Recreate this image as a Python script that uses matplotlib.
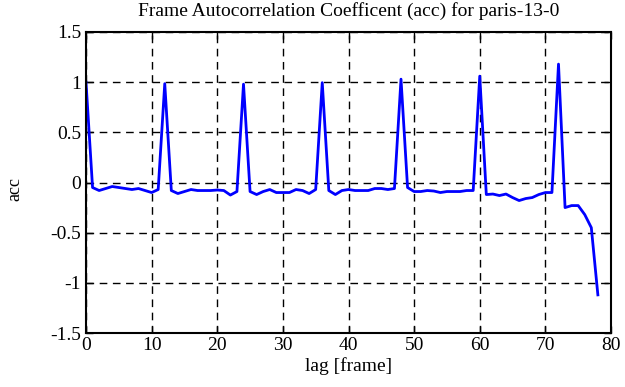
import matplotlib
matplotlib.use("Agg")
import matplotlib.pyplot as plt

plt.rcParams['font.family'] = ['Liberation Serif', 'DejaVu Serif']
plt.rcParams['axes.unicode_minus'] = False

lags = list(range(79))
acc = [1.00, -0.05, -0.08, -0.06, -0.04, -0.05, -0.06, -0.07, -0.06, -0.08,
       -0.10, -0.07, 0.985, -0.08, -0.11, -0.09, -0.07, -0.08, -0.08, -0.08,
       -0.075, -0.08, -0.125, -0.09, 0.98, -0.09, -0.12, -0.09, -0.07, -0.10,
       -0.10, -0.10, -0.07, -0.08, -0.11, -0.07, 0.995, -0.08, -0.12, -0.08,
       -0.07, -0.08, -0.08, -0.08, -0.06, -0.06, -0.07, -0.06, 1.03, -0.05,
       -0.09, -0.09, -0.08, -0.085, -0.10, -0.09, -0.09, -0.09, -0.08, -0.08,
       1.06, -0.12, -0.115, -0.13, -0.115, -0.15, -0.18, -0.16, -0.15, -0.12,
       -0.10, -0.10, 1.18, -0.25, -0.23, -0.23, -0.32, -0.45, -1.12]

xticks = [0, 10, 20, 30, 40, 50, 60, 70, 80]
yticks = [-1.5, -1, -0.5, 0, 0.5, 1, 1.5]
ytick_labels = ['-1.5', '-1', '-0.5', '0', '0.5', '1', '1.5']

fig = plt.figure(figsize=(6.25, 3.87), dpi=100)
ax = fig.add_axes([86/625, 1 - 333/387, (611-86)/625, (333-32)/387])
ax.plot(lags, acc, color='#0000ff', linewidth=2)
ax.set_xlim(0, 80)
ax.set_ylim(-1.5, 1.5)
ax.set_xticks(xticks)
ax.set_xticklabels([str(t) for t in xticks])
ax.set_yticks(yticks)
ax.set_yticklabels(ytick_labels)
ax.grid(True, color='black', linestyle=(0, (5.5, 4)), linewidth=1)
ax.tick_params(direction='in', top=True, right=True, length=5, width=1, labelsize=14)
ax.tick_params(axis='x', pad=3)
for s in ax.spines.values():
    s.set_linewidth(1.5)
ax.set_xlabel('lag [frame]', fontsize=14, labelpad=2)
ax.set_ylabel('acc', fontsize=13)
ax.yaxis.set_label_coords(-0.12, 0.48)
fig.text(348.5/625, 1 - 16/387, 'Frame Autocorrelation Coefficent (acc) for paris-13-0',
         fontsize=14, ha='center', va='baseline')
fig.savefig('out.png', dpi=100)
